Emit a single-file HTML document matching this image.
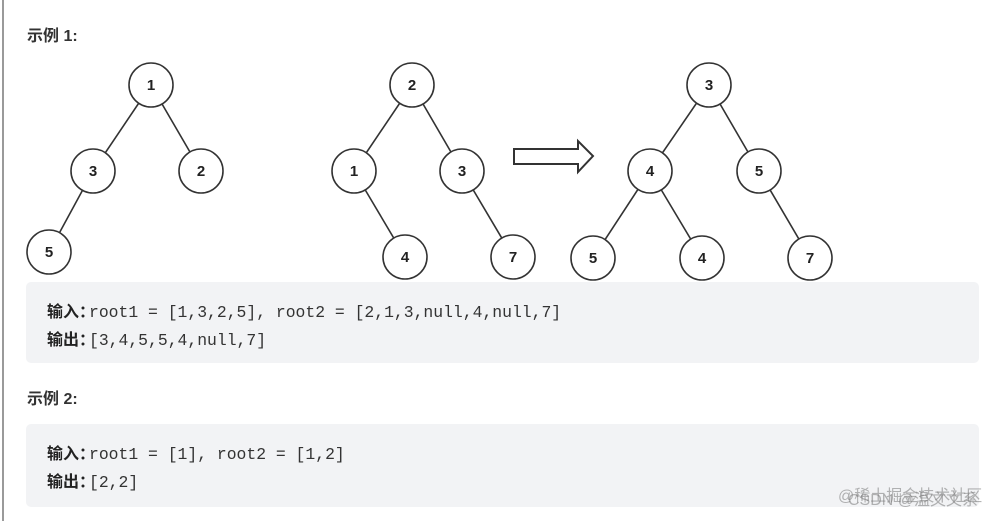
<!DOCTYPE html>
<html><head><meta charset="utf-8"><style>
html,body{margin:0;padding:0;background:#fff;width:1003px;height:521px;overflow:hidden;position:relative}
.vl{position:absolute;left:2px;top:0;width:2px;height:521px;background:#9a9a9a}
.h{position:absolute;left:27px;font:bold 16px "Liberation Sans","Noto Sans CJK SC",sans-serif;color:#333}
.box{position:absolute;left:26px;width:953px;background:#f2f3f5;border-radius:5px}
.ln{position:absolute;left:47px;font:16.4px "Liberation Mono","Noto Sans CJK SC",monospace;color:#333;white-space:pre}
.ln b{display:inline-block;width:42px;font:bold 16px "Liberation Sans","Noto Sans CJK SC",sans-serif;color:#222}
.wm{position:absolute;left:838px;top:482px;font:16px "Liberation Sans","Noto Sans CJK SC",sans-serif;color:rgba(120,120,120,0.55);white-space:nowrap}
svg{position:absolute;left:0;top:0}
</style></head><body>
<div class="vl"></div>
<div class="h" style="top:22px">示例 1:</div>
<div class="box" style="top:282px;height:81px"></div>
<div class="ln" style="top:298px"><b>输入：</b>root1 = [1,3,2,5], root2 = [2,1,3,null,4,null,7]</div>
<div class="ln" style="top:326px"><b>输出：</b>[3,4,5,5,4,null,7]</div>
<div class="h" style="top:385px">示例 2:</div>
<div class="box" style="top:424px;height:83px"></div>
<div class="ln" style="top:440px"><b>输入：</b>root1 = [1], root2 = [1,2]</div>
<div class="ln" style="top:468px"><b>输出：</b>[2,2]</div>
<div class="wm">@稀土掘金技术社区</div>
<div class="wm" style="left:848px;top:486px">CSDN @温文文系</div>
<svg width="1003" height="521" font-family="Liberation Sans, sans-serif" font-weight="bold" font-size="15">
<g stroke="#333" stroke-width="1.6">
<line x1="151" y1="85" x2="93" y2="171"/><line x1="151" y1="85" x2="201" y2="171"/><line x1="93" y1="171" x2="49" y2="252"/>
<line x1="412" y1="85" x2="354" y2="171"/><line x1="412" y1="85" x2="462" y2="171"/><line x1="354" y1="171" x2="405" y2="257"/><line x1="462" y1="171" x2="513" y2="257"/>
<line x1="709" y1="85" x2="650" y2="171"/><line x1="709" y1="85" x2="759" y2="171"/><line x1="650" y1="171" x2="593" y2="258"/><line x1="650" y1="171" x2="702" y2="258"/><line x1="759" y1="171" x2="810" y2="258"/>
</g>
<g fill="#fff" stroke="#333" stroke-width="1.6">
<circle cx="151" cy="85" r="22"/><circle cx="93" cy="171" r="22"/><circle cx="201" cy="171" r="22"/><circle cx="49" cy="252" r="22"/>
<circle cx="412" cy="85" r="22"/><circle cx="354" cy="171" r="22"/><circle cx="462" cy="171" r="22"/><circle cx="405" cy="257" r="22"/><circle cx="513" cy="257" r="22"/>
<circle cx="709" cy="85" r="22"/><circle cx="650" cy="171" r="22"/><circle cx="759" cy="171" r="22"/><circle cx="593" cy="258" r="22"/><circle cx="702" cy="258" r="22"/><circle cx="810" cy="258" r="22"/>
<polygon points="514,149 578,149 578,141 593,156 578,172 578,164 514,164" stroke-width="2"/>
</g>
<g fill="#222" text-anchor="middle">
<text x="151" y="90">1</text><text x="93" y="176">3</text><text x="201" y="176">2</text><text x="49" y="257">5</text>
<text x="412" y="90">2</text><text x="354" y="176">1</text><text x="462" y="176">3</text><text x="405" y="262">4</text><text x="513" y="262">7</text>
<text x="709" y="90">3</text><text x="650" y="176">4</text><text x="759" y="176">5</text><text x="593" y="263">5</text><text x="702" y="263">4</text><text x="810" y="263">7</text>
</g>
</svg>
</body></html>
